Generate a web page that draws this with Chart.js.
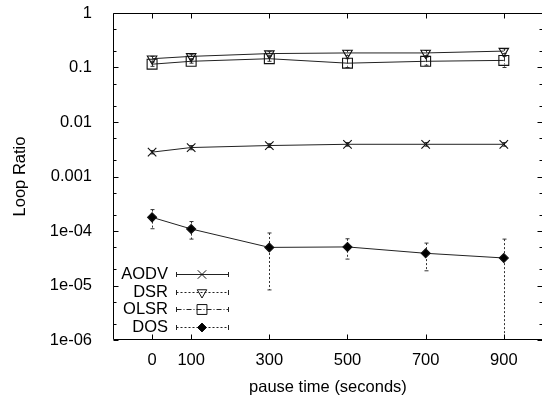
<!DOCTYPE html>
<html>
<head>
<meta charset="utf-8">
<script src="https://cdn.jsdelivr.net/npm/chart.js@4.4.1/dist/chart.umd.min.js"></script>
<style>
html,body{margin:0;padding:0;background:#fff;overflow:hidden}
#wrap{width:542px;height:400px;overflow:hidden}
</style>
</head>
<body>
<div id="wrap"><canvas id="loopratio" width="551" height="400"></canvas></div>
<script>
// pause time (seconds)
var pauseTimes = [0, 100, 300, 500, 700, 900]
var xTicks = [0, 100, 300, 500, 700, 900]
var yTicks = [1, 0.1, 0.01, 0.001, 1e-4, 1e-5, 1e-6]
var yTickLabels = ['1', '0.1', '0.01', '0.001', '1e-04', '1e-05', '1e-06']

var aodv = [0.0028, 0.0034, 0.0037, 0.0039, 0.0039, 0.0039]
var aodvLow = [0.0026, 0.0031, 0.0034, 0.0036, 0.0036, 0.0036]
var aodvHigh = [0.0030, 0.0037, 0.0040, 0.0042, 0.0042, 0.0042]

var dsr = [0.145, 0.16, 0.18, 0.185, 0.185, 0.2]
var dsrLow = [0.13, 0.145, 0.165, 0.165, 0.165, 0.18]
var dsrHigh = [0.16, 0.175, 0.195, 0.205, 0.205, 0.22]

var olsr = [0.115, 0.13, 0.145, 0.12, 0.13, 0.135]
var olsrLow = [0.105, 0.12, 0.13, 0.10, 0.11, 0.10]
var olsrHigh = [0.125, 0.14, 0.16, 0.145, 0.155, 0.16]

var dos = [1.78e-4, 1.09e-4, 5.0e-5, 5.1e-5, 3.9e-5, 3.2e-5]
var dosLow = [1.1e-4, 7.1e-5, 8.3e-6, 3.05e-5, 1.86e-5, 1e-7]
var dosHigh = [2.47e-4, 1.49e-4, 9.2e-5, 7.2e-5, 6.0e-5, 7.1e-5]

var font = {family: "'Liberation Sans', Arial, sans-serif", size: 16.5}

function pts(vals){
    return pauseTimes.map(function(t, i){ return {x: t, y: vals[i]} })
}

function makeSet(label, vals, low, high, style, radius, rot, fill, dash){
    return {
        label: label,
        data: pts(vals),
        low: low,
        high: high,
        errDash: dash,
        borderColor: '#222',
        borderWidth: 1,
        pointStyle: style,
        pointRadius: radius,
        pointRotation: rot,
        pointBackgroundColor: fill,
        pointBorderColor: '#111',
        pointBorderWidth: 1.1,
        fill: false,
        tension: 0
    }
}

// gnuplot-ish frame: border, inward ticks, error bars, legend
var frame = {
    id: 'frame',
    beforeDatasetsDraw: function(chart){
        var ctx = chart.ctx, a = chart.chartArea
        var xs = chart.scales.x, ys = chart.scales.y
        ctx.save()
        ctx.beginPath()
        ctx.rect(a.left, a.top, a.right - a.left, a.bottom - a.top)
        ctx.clip()
        ctx.strokeStyle = '#333'
        ctx.lineWidth = 1
        chart.data.datasets.forEach(function(ds){
            ctx.setLineDash(ds.errDash)
            for (var i = 0; i < pauseTimes.length; i++) {
                var px = Math.round(xs.getPixelForValue(pauseTimes[i])) + 0.5
                var y1 = ys.getPixelForValue(ds.high[i])
                var y2 = ys.getPixelForValue(ds.low[i])
                ctx.beginPath()
                ctx.moveTo(px, y1); ctx.lineTo(px, y2)
                ctx.stroke()
                ctx.setLineDash([])
                ctx.beginPath()
                ctx.moveTo(px - 2, y1); ctx.lineTo(px + 2, y1)
                ctx.moveTo(px - 2, y2); ctx.lineTo(px + 2, y2)
                ctx.stroke()
                ctx.setLineDash(ds.errDash)
            }
        })
        ctx.restore()
    },
    afterDraw: function(chart){
        var ctx = chart.ctx, a = chart.chartArea
        var xs = chart.scales.x, ys = chart.scales.y
        var L = Math.round(a.left) + 0.5, R = Math.round(a.right) - 0.5
        var T = Math.round(a.top) + 0.5, B = Math.round(a.bottom) - 0.5
        ctx.save()
        ctx.strokeStyle = '#000'
        ctx.lineWidth = 1
        // right side of the box falls just outside the picture
        ctx.beginPath()
        ctx.moveTo(R, T); ctx.lineTo(L, T); ctx.lineTo(L, B); ctx.lineTo(R, B)
        ctx.stroke()
        ctx.beginPath()
        xTicks.forEach(function(v){
            var px = Math.round(xs.getPixelForValue(v)) + 0.5
            ctx.moveTo(px, B); ctx.lineTo(px, B - 5)
            ctx.moveTo(px, T); ctx.lineTo(px, T + 5)
        })
        yTicks.forEach(function(v){
            var py = Math.round(ys.getPixelForValue(v)) + 0.5
            ctx.moveTo(L, py); ctx.lineTo(L + 5, py)
            ctx.moveTo(R, py); ctx.lineTo(R - 5, py)
            ;[2, 5].forEach(function(m){
                var mv = v * m
                if (mv < 1) {
                    var my = Math.round(ys.getPixelForValue(mv)) + 0.5
                    ctx.moveTo(L, my); ctx.lineTo(L + 3, my)
                    ctx.moveTo(R, my); ctx.lineTo(R - 3, my)
                }
            })
        })
        ctx.stroke()

        // legend
        ctx.font = font.size + 'px ' + font.family
        ctx.textAlign = 'right'
        ctx.textBaseline = 'middle'
        chart.data.datasets.forEach(function(ds, i){
            var y = Math.round(274 + i * 17.5) + 0.5
            ctx.fillStyle = '#000'
            ctx.fillText(ds.label, 168, y)
            ctx.strokeStyle = '#222'
            ctx.lineWidth = 1
            ctx.setLineDash(ds.errDash)
            ctx.beginPath()
            ctx.moveTo(176.5, y); ctx.lineTo(228.5, y)
            ctx.stroke()
            ctx.setLineDash([])
            ctx.beginPath()
            ctx.moveTo(176.5, y - 2.5); ctx.lineTo(176.5, y + 2.5)
            ctx.moveTo(228.5, y - 2.5); ctx.lineTo(228.5, y + 2.5)
            ctx.stroke()
            ctx.strokeStyle = '#111'
            ctx.fillStyle = ds.pointBackgroundColor
            Chart.helpers.drawPoint(ctx, {
                pointStyle: ds.pointStyle,
                radius: ds.pointRadius,
                rotation: ds.pointRotation,
                borderWidth: 1.1
            }, 202, y)
        })
        ctx.restore()
    }
}

var ctx = document.getElementById('loopratio')
new Chart(ctx, {
    type: 'line',
    data: {
        datasets: [
            makeSet('AODV', aodv, aodvLow, aodvHigh, 'crossRot', 6, 0, 'rgba(0,0,0,0)', []),
            makeSet('DSR', dsr, dsrLow, dsrHigh, 'triangle', 5.5, 180, 'rgba(0,0,0,0)', [2, 2]),
            makeSet('OLSR', olsr, olsrLow, olsrHigh, 'rect', 7, 0, 'rgba(0,0,0,0)', [5, 2, 1, 2]),
            makeSet('DOS', dos, dosLow, dosHigh, 'rectRot', 4.5, 0, '#000', [2, 2])
        ]
    },
    options: {
        responsive: false,
        animation: false,
        layout: {padding: {top: 13, right: 4, bottom: 0, left: 0}},
        plugins: {legend: {display: false}, tooltip: {enabled: false}},
        scales: {
            x: {
                type: 'linear',
                min: -100,
                max: 1000,
                grid: {display: false},
                border: {display: false},
                afterBuildTicks: function(s){ s.ticks = xTicks.map(function(v){ return {value: v} }) },
                afterFit: function(s){ s.height = 60; s.paddingLeft = 0; s.paddingRight = 0 },
                ticks: {font: font, color: '#000', padding: 3, maxRotation: 0, autoSkip: false},
                title: {display: true, text: 'pause time (seconds)', font: font, color: '#000', padding: {top: 0, bottom: 3}}
            },
            y: {
                type: 'logarithmic',
                min: 1e-6,
                max: 1,
                grid: {display: false},
                border: {display: false},
                afterBuildTicks: function(s){ s.ticks = yTicks.map(function(v){ return {value: v} }) },
                afterFit: function(s){ s.width = 113; s.paddingTop = 0; s.paddingBottom = 0 },
                ticks: {
                    font: font, color: '#000', padding: 13, autoSkip: false,
                    callback: function(v){ return yTickLabels[yTicks.indexOf(v)] }
                },
                title: {display: true, text: 'Loop Ratio', font: font, color: '#000', padding: {top: 11, bottom: 0}}
            }
        }
    },
    plugins: [frame]
});
</script>
</body>
</html>
